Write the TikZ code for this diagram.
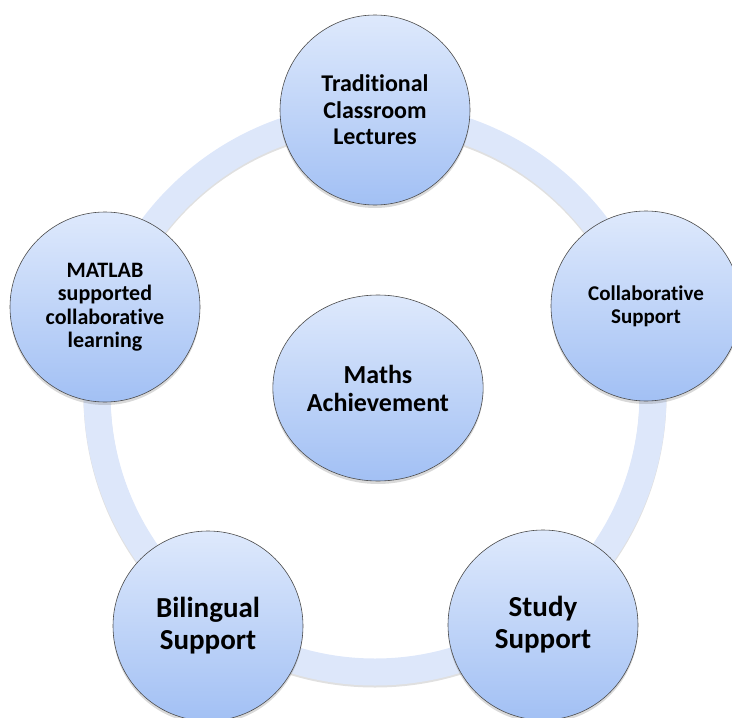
\documentclass[tikz,border=0pt]{standalone}
\usepackage{fontspec}
\setmainfont{Carlito}[Ligatures=NoCommon]
\usetikzlibrary{shapes.geometric,shadows}
\definecolor{bubbletop}{RGB}{222,233,252}
\definecolor{bubblebot}{RGB}{162,192,244}
\definecolor{ringblue}{RGB}{221,231,250}
\tikzset{
  bubble/.style={circle,minimum size=190pt,draw=black!70,line width=.6pt,
    top color=bubbletop,bottom color=bubblebot,align=center,
    drop shadow={shadow xshift=0pt,shadow yshift=-3pt,opacity=.3}},
  fs/.style 2 args={font=\bfseries\fontsize{#1}{#2}\selectfont},
}
\begin{document}
\begin{tikzpicture}[x=1pt,y=-1pt]
  \useasboundingbox (0,0) rectangle (732,718);
  \coordinate (hub) at (375,394);
  % the ring behind the bubbles
  \draw[line width=27pt,black!12] ([yshift=-2pt]hub) circle (278pt);
  \draw[line width=27pt,ringblue] (hub) circle (278pt);
  % outer bubbles
  \node[bubble,fs={24}{26.5}] (trad) at (375,110) {Traditional\\Classroom\\Lectures};
  \node[bubble,fs={21}{23}] (collab) at (646,306) {Collaborative\\Support};
  \node[bubble,fs={29}{32}] (study) at (543,625) {Study\\Support};
  \node[bubble,fs={29}{32}] (bilingual) at (208,626) {Bilingual\\Support};
  \node[bubble,fs={22}{23.5}] (matlab) at (105,307) {MATLAB\\supported\\collaborative\\learning};
  % centre
  \node[bubble,ellipse,minimum width=206pt,minimum height=186pt,fs={26}{28}] (maths) at (378,388) {Maths\\Achievement};
\end{tikzpicture}
\end{document}
